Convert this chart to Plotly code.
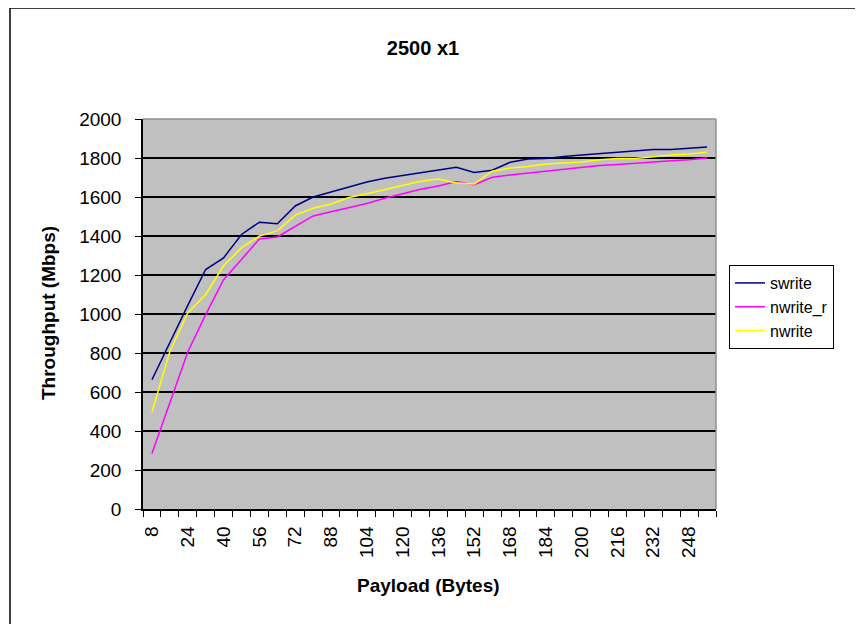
import plotly.graph_objects as go

payload = list(range(8, 257, 8))

swrite = [663, 858, 1044, 1228, 1288, 1408, 1471, 1463, 1554, 1600, 1625, 1653,
          1677, 1696, 1710, 1726, 1738, 1752, 1726, 1737, 1778, 1795, 1797, 1808,
          1815, 1822, 1829, 1836, 1843, 1843, 1850, 1856]

nwrite_r = [284, 549, 805, 997, 1176, 1280, 1385, 1395, 1450, 1503, 1524, 1545,
            1567, 1594, 1616, 1640, 1656, 1680, 1663, 1701, 1713, 1723, 1732, 1744,
            1752, 1761, 1767, 1774, 1781, 1786, 1791, 1800]

nwrite = [497, 808, 1005, 1100, 1247, 1340, 1400, 1426, 1507, 1542, 1564, 1597,
          1617, 1637, 1660, 1681, 1692, 1672, 1667, 1732, 1749, 1757, 1769, 1774,
          1780, 1791, 1798, 1798, 1808, 1815, 1820, 1829]

label_ticks = list(range(8, 257, 16))

FONT = "Arial, Liberation Sans, sans-serif"

# the page body adds an 8px offset, so the layout is laid out 8px up/left
OFF = 8

# plot area in page pixels
PL, PR, PT, PB = 143, 716, 119, 509
PW, PH = PR - PL, PB - PT


def px(x):
    return (x - PL) / PW


def py(y):
    return (PB - y) / PH


fig = go.Figure()

series = [
    ("swrite", swrite, "#000080"),
    ("nwrite_r", nwrite_r, "#FF00FF"),
    ("nwrite", nwrite, "#FFFF00"),
]

for name, vals, color in series:
    fig.add_trace(
        go.Scatter(
            x=payload,
            y=vals,
            name=name,
            mode="lines",
            line=dict(color=color, width=1.5)
        )
    )

fig.update_layout(
    width=863,
    height=624,
    margin=dict(l=PL - OFF, r=863 - PR + OFF, t=PT - OFF, b=624 - PB + OFF),
    paper_bgcolor="white",
    plot_bgcolor="#C0C0C0",
    font=dict(family=FONT, color="black"),
    title=dict(
        text="<b>2500 x1</b>",
        x=(423 - OFF) / 863,
        xanchor="center",
        y=1 - (48 - OFF) / 624,
        yanchor="middle",
        font=dict(size=20, family=FONT)
    ),
    legend=dict(
        xref="container",
        yref="container",
        x=(729 - OFF) / 863,
        y=1 - (265 - OFF) / 624,
        xanchor="left",
        yanchor="top",
        bordercolor="black",
        borderwidth=1,
        bgcolor="white",
        font=dict(size=16, family=FONT),
        tracegroupgap=0,
        itemwidth=30
    ),
    showlegend=True
)

fig.update_xaxes(
    range=[4, 260],
    tickvals=label_ticks,
    ticks="",
    tickangle=-90,
    tickfont=dict(size=19),
    showgrid=False,
    zeroline=False,
    showline=True,
    linecolor="black",
    linewidth=1.5,
    minor=dict(tick0=4, dtick=8, ticks="outside", ticklen=6, tickcolor="black", showgrid=False),
    ticklabelstandoff=8
)

fig.update_yaxes(
    range=[0, 2000],
    dtick=200,
    ticks="outside",
    ticklen=6,
    tickcolor="black",
    tickfont=dict(size=19),
    showgrid=True,
    gridcolor="black",
    gridwidth=1.5,
    zeroline=False,
    showline=True,
    linecolor="black",
    linewidth=1.5,
    ticklabelstandoff=10
)

# axis titles
fig.add_annotation(text="<b>Payload (Bytes)</b>", xref="paper", yref="paper",
                   x=px(428), y=py(585), xanchor="center", yanchor="middle",
                   showarrow=False, font=dict(size=19))
fig.add_annotation(text="<b>Throughput (Mbps)</b>", xref="paper", yref="paper",
                   x=px(48), y=py(313), xanchor="center", yanchor="middle",
                   textangle=-90, showarrow=False, font=dict(size=19))

# plot area frame (gray) and outer chart border
fig.add_shape(type="line", xref="paper", yref="paper", x0=0, x1=1, y0=1, y1=1,
              line=dict(color="#909090", width=1.5))
fig.add_shape(type="line", xref="paper", yref="paper", x0=1, x1=1, y0=0, y1=1,
              line=dict(color="#909090", width=1.5))
fig.add_shape(type="line", xref="paper", yref="paper",
              x0=px(10), x1=2, y0=py(8), y1=py(8),
              line=dict(color="black", width=1.5))
fig.add_shape(type="line", xref="paper", yref="paper",
              x0=px(10), x1=px(10), y0=-1, y1=py(8),
              line=dict(color="black", width=1.5))

fig.write_html("out.html")
